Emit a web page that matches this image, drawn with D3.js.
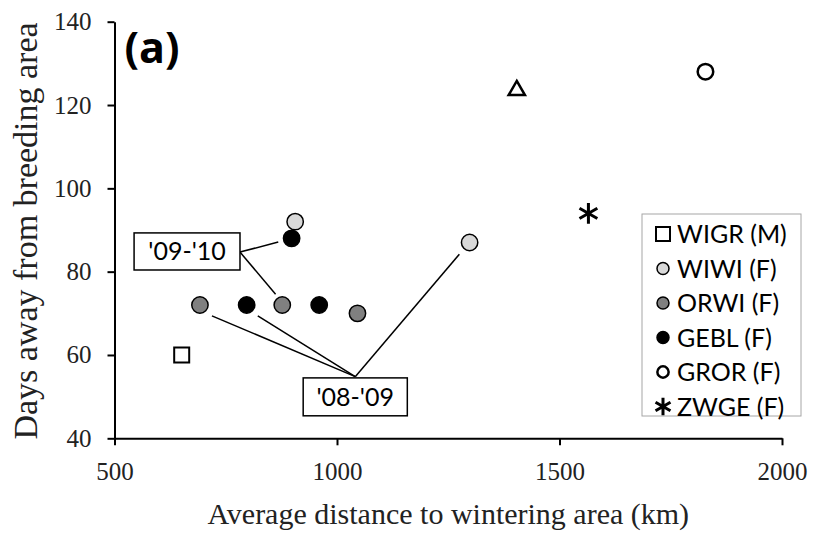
<!DOCTYPE html>
<html>
<head>
<meta charset="utf-8">
<script src="https://cdn.jsdelivr.net/npm/d3@7"></script>
<style>
  body { margin: 0; background: #fff; }
  .lbl { font-family: Lato, "Open Sans", sans-serif; font-size: 25px; fill: #000; }
</style>
</head>
<body>
<div id="chart"></div>
<script>
// Serier (avstånd km, dagar)
const seriesNames = ["WIGR (M)", "WIWI (F)", "ORWI (F)", "GEBL (F)", "GROR (F)", "ZWGE (F)"];
const wigr = [[651, 60]];
const wiwi = [[906, 92], [1298, 87]];
const orwi = [[692, 72], [877, 72], [1046, 70]];
const gebl = [[898, 88], [797, 72], [960, 72]];
const gror = [[1828, 128]];
const zwge = [[1565, 94]];
const unnamed = [[1404, 124]];   // triangel, ingen legend

const xTicks = [500, 1000, 1500, 2000];
const yTicks = [40, 60, 80, 100, 120, 140];

// Anteckningar i dataenheter
const notes = [
  { text: "'09-'10", box: [544, 782, 89.3, 80.4], from: [782, 84.7], to: [[868, 87.1], [862, 74.6]] },
  { text: "'08-'09", box: [924, 1158, 54.5, 45.4], from: [1041, 54.8], to: [[719, 69.4], [822, 69.4], [1275, 84.2]] }
];

const styles = [
  { data: wigr, sym: d3.symbolSquare, size: 225, fill: "#fff", stroke: "#000", sw: 2, lsize: 196 },
  { data: wiwi, sym: d3.symbolCircle, size: 210, fill: "#d9d9d9", stroke: "#000", sw: 1.5, lsize: 113 },
  { data: orwi, sym: d3.symbolCircle, size: 210, fill: "#808080", stroke: "#000", sw: 1.5, lsize: 113 },
  { data: gebl, sym: d3.symbolCircle, size: 210, fill: "#000", stroke: "#000", sw: 1.5, lsize: 113 },
  { data: gror, sym: d3.symbolCircle, size: 190, fill: "#fff", stroke: "#000", sw: 2.5, lsize: 100 },
  { data: zwge, sym: d3.symbolAsterisk, size: 300, fill: "none", stroke: "#000", sw: 3, lsize: 210 }
];

const W = 813, H = 541;
const margin = { top: 21.7, right: 31, bottom: 102.7, left: 114.5 };
const width = W - margin.left - margin.right;
const height = H - margin.top - margin.bottom;

const svg = d3.select("#chart").append("svg")
  .attr("width", W).attr("height", H)
  .append("g")
  .attr("transform", `translate(${margin.left},${margin.top})`);

const x = d3.scaleLinear().domain([500, 2000]).range([0, width]);
const y = d3.scaleLinear().domain([40, 140]).range([height, 0]);

// Axlar
const xAxis = svg.append("g")
  .attr("transform", `translate(0,${height})`)
  .call(d3.axisBottom(x).tickValues(xTicks).tickFormat(d3.format("d")).tickSize(7).tickSizeOuter(0).tickPadding(11));
const yAxis = svg.append("g")
  .call(d3.axisLeft(y).tickValues(yTicks).tickSize(7).tickSizeOuter(0).tickPadding(16));
[xAxis, yAxis].forEach(a => {
  a.attr("font-family", "'Liberation Serif', serif").attr("font-size", 25);
  a.select(".domain").attr("stroke", "#000").attr("stroke-width", 2);
  a.selectAll(".tick line").attr("stroke", "#000").attr("stroke-width", 2);
  a.selectAll(".tick text").attr("fill", "#222");
});
xAxis.selectAll(".tick text").attr("dy", "0.95em");

// Axeltitlar
svg.append("text")
  .attr("font-family", "'Liberation Serif', serif").attr("font-size", 30).attr("fill", "#222")
  .attr("x", width / 2).attr("y", height + 86)
  .attr("text-anchor", "middle")
  .text("Average distance to wintering area (km)");
svg.append("text")
  .attr("font-family", "'Liberation Serif', serif").attr("font-size", 34).attr("fill", "#222")
  .attr("transform", "rotate(-90)")
  .attr("x", -height / 2 - 1).attr("y", -margin.left + 37)
  .attr("text-anchor", "middle")
  .text("Days away from breeding area");

// Panelbokstav
svg.append("text")
  .attr("x", 10).attr("y", 41)
  .attr("font-family", "'Open Sans', sans-serif").attr("font-weight", "bold").attr("font-size", 43)
  .text("(a)");

// Anteckningslinjer och rutor
notes.forEach(n => {
  n.to.forEach(t => {
    svg.append("line")
      .attr("x1", x(n.from[0])).attr("y1", y(n.from[1]))
      .attr("x2", x(t[0])).attr("y2", y(t[1]))
      .attr("stroke", "#000").attr("stroke-width", 1.5);
  });
});
notes.forEach(n => {
  const [x0, x1, y0, y1] = n.box;
  svg.append("rect")
    .attr("x", x(x0)).attr("y", y(y0))
    .attr("width", x(x1) - x(x0)).attr("height", y(y1) - y(y0))
    .attr("fill", "#fff").attr("stroke", "#000").attr("stroke-width", 1.5);
  svg.append("text").attr("class", "lbl")
    .attr("x", (x(x0) + x(x1)) / 2).attr("y", (y(y0) + y(y1)) / 2)
    .attr("text-anchor", "middle").attr("dy", "0.36em")
    .text(n.text);
});

// Punkter
styles.forEach(s => {
  svg.selectAll(null).data(s.data).enter().append("path")
    .attr("d", d3.symbol(s.sym, s.size)())
    .attr("transform", d => `translate(${x(d[0])},${y(d[1])})`)
    .attr("fill", s.fill).attr("stroke", s.stroke).attr("stroke-width", s.sw);
});
svg.selectAll(null).data(unnamed).enter().append("path")
  .attr("d", d3.symbol(d3.symbolTriangle, 115)())
  .attr("transform", d => `translate(${x(d[0])},${y(d[1]) + 2})`)
  .attr("fill", "none").attr("stroke", "#000").attr("stroke-width", 2.5);

// Legend
const lg = svg.append("g").attr("transform", `translate(${642 - margin.left},${214 - margin.top})`);
lg.append("rect").attr("width", 159).attr("height", 202)
  .attr("fill", "#fff").attr("stroke", "#a6a6a6").attr("stroke-width", 1);
seriesNames.forEach((name, i) => {
  const s = styles[i];
  const row = lg.append("g").attr("transform", `translate(21,${20 + i * 34.5})`);
  row.append("path").attr("d", d3.symbol(s.sym, s.lsize)())
    .attr("fill", s.fill).attr("stroke", s.stroke).attr("stroke-width", s.sw);
  row.append("text").attr("class", "lbl").attr("x", 14).attr("dy", "0.36em").text(name);
});
</script>
</body>
</html>
